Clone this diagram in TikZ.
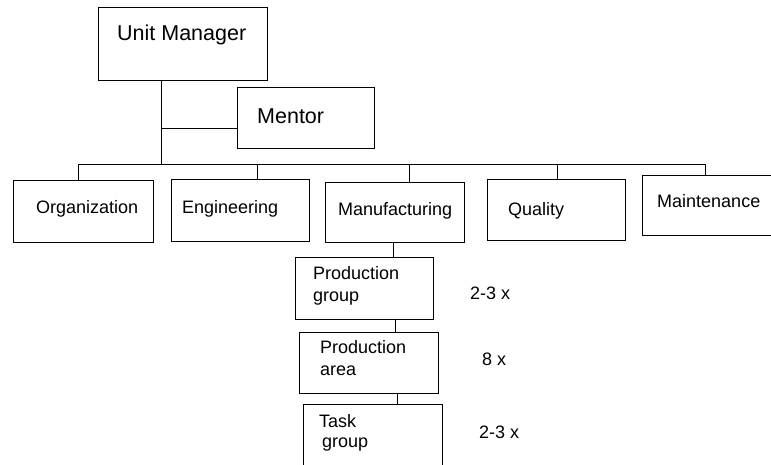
\documentclass[tikz,border=0pt]{standalone}
\usepackage{fontspec}
\setmainfont{Liberation Sans}
\begin{document}
\begin{tikzpicture}[x=1pt,y=-1pt,
  box/.style={draw, line width=1pt, rectangle, inner sep=0pt, anchor=north west},
  lbl/.style={anchor=base west, inner sep=0pt, font=\fontsize{18}{22}\selectfont},
  big/.style={anchor=base west, inner sep=0pt, font=\fontsize{21.5}{25}\selectfont},
  wire/.style={line width=1pt}]
\clip (0,0) rectangle (771,464);
\fill[white] (0,0) rectangle (771,464);
% boxes
\node[box, minimum width=169pt, minimum height=73pt] (um) at (98,7) {};
\node[box, minimum width=137pt, minimum height=61pt] (me) at (237,87) {};
\node[box, minimum width=140pt, minimum height=62pt] (org) at (13,180) {};
\node[box, minimum width=138pt, minimum height=62pt] (eng) at (171,179) {};
\node[box, minimum width=139pt, minimum height=60pt] (man) at (325,182) {};
\node[box, minimum width=138pt, minimum height=61pt] (qua) at (487,179) {};
\node[box, minimum width=135pt, minimum height=60pt] (mai) at (642,175) {};
\node[box, minimum width=138pt, minimum height=62pt] (pg) at (295,257) {};
\node[box, minimum width=139pt, minimum height=61pt] (pa) at (299,332) {};
\node[box, minimum width=139pt, minimum height=70pt] (tg) at (303,404) {};
% texts
\node[big] (tum) at (117,40) {Unit Manager};
\node[big] (tme) at (257,123) {Mentor};
\node[lbl] (torg) at (36,213) {Organization};
\node[lbl] (teng) at (182,213) {Engineering};
\node[lbl] (tman) at (338,215) {Manufacturing};
\node[lbl] (tqua) at (508,215) {Quality};
\node[lbl] (tmai) at (657,207) {Maintenance};
\node[lbl] (tpg1) at (313,279) {Production};
\node[lbl] (tpg2) at (313,301) {group};
\node[lbl] (tpa1) at (320,353) {Production};
\node[lbl] (tpa2) at (320,375) {area};
\node[lbl] (ttg1) at (319,427) {Task};
\node[lbl] (ttg2) at (322,447) {group};
\node[lbl] (n1) at (470,299) {2-3 x};
\node[lbl] (n2) at (482,365) {8 x};
\node[lbl] (n3) at (479,438) {2-3 x};
% connectors
\coordinate (trunk) at (161,164);
\coordinate (mj) at (161,128);
\coordinate (b1) at (78,164);
\coordinate (b2) at (705,164);
\coordinate (te) at (257,164);
\coordinate (tm) at (409,164);
\coordinate (tq) at (557,164);
\coordinate (d1) at (393,0);
\coordinate (d2) at (395,0);
\coordinate (d3) at (397,0);
\draw[wire] (um.south -| trunk) -- (trunk);
\draw[wire] (mj) -- (mj -| me.west);
\draw[wire] (b1) -- (b2);
\draw[wire] (b1) -- (b1 |- org.north);
\draw[wire] (te) -- (te |- eng.north);
\draw[wire] (tm) -- (tm |- man.north);
\draw[wire] (tq) -- (tq |- qua.north);
\draw[wire] (b2) -- (b2 |- mai.north);
\draw[wire] (man.south -| d1) -- (pg.north -| d1);
\draw[wire] (pg.south -| d2) -- (pa.north -| d2);
\draw[wire] (pa.south -| d3) -- (tg.north -| d3);
\end{tikzpicture}
\end{document}
